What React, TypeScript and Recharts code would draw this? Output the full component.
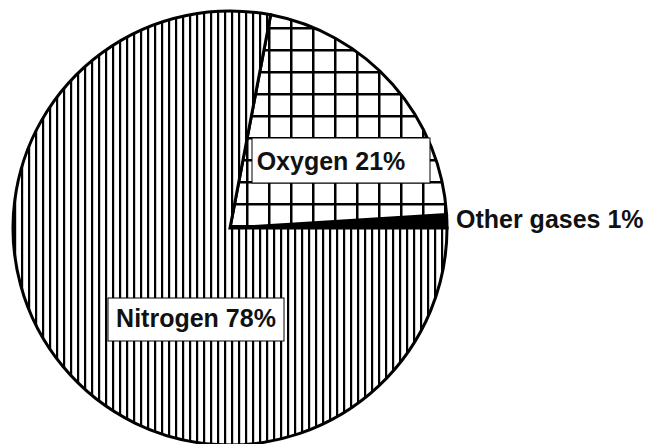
import { PieChart, Pie, Cell } from 'recharts';

const gases = ['Other gases', 'Oxygen', 'Nitrogen'];
const shares = [1, 21, 78];
const fills = ['#000', 'url(#crossHatch)', 'url(#vertHatch)'];

const datos = gases.map((name, i) => ({ name, value: shares[i] }));

// where each label sits, relative to the pie centre
const labelSpots: Record<string, { dx: number; dy: number; anchor: 'start' | 'middle'; box?: number[] }> = {
  'Other gases': { dx: 226, dy: 0, anchor: 'start' },
  Oxygen: { dx: 101, dy: -58, anchor: 'middle', box: [22, -90, 178, 45] },
  Nitrogen: { dx: -34, dy: 99, anchor: 'middle', box: [-122, 70, 176, 43] },
};

const renderLabel = (props: any) => {
  const { cx, cy, name, value } = props;
  const spot = labelSpots[name];
  if (!spot) return null;
  return (
    <g>
      {spot.box && (
        <rect
          x={cx + spot.box[0]}
          y={cy + spot.box[1]}
          width={spot.box[2]}
          height={spot.box[3]}
          fill="#fff"
          stroke="#000"
          strokeWidth={1}
        />
      )}
      <text
        x={cx + spot.dx}
        y={cy + spot.dy}
        textAnchor={spot.anchor}
        fontFamily="'Liberation Sans', Arial, sans-serif"
        fontWeight="bold"
        fontSize={25}
        fill="#111"
      >
        {`${name} ${value}%`}
      </text>
    </g>
  );
};

export default function App() {
  return (
    <div style={{ position: 'absolute', left: 0, top: 0, width: 651, height: 444, background: '#fff' }}>
      <PieChart width={651} height={444} margin={{ top: 0, right: 0, bottom: 0, left: 0 }}>
        <defs>
          <pattern id="vertHatch" patternUnits="userSpaceOnUse" width={7} height={10}>
            <rect width={7} height={10} fill="#fff" />
            <rect x={0} y={0} width={2.2} height={10} fill="#000" />
          </pattern>
          <pattern id="crossHatch" patternUnits="userSpaceOnUse" width={22} height={22} x={4} y={5}>
            <rect width={22} height={22} fill="#fff" />
            <rect x={0} y={0} width={2.5} height={22} fill="#000" />
            <rect x={0} y={0} width={22} height={2.5} fill="#000" />
          </pattern>
        </defs>
        <Pie
          data={datos}
          dataKey="value"
          nameKey="name"
          cx={230}
          cy={228}
          outerRadius={217}
          startAngle={0}
          endAngle={360}
          stroke="#000"
          strokeWidth={3}
          label={renderLabel}
          labelLine={false}
          isAnimationActive={false}
        >
          {datos.map((d, i) => (
            <Cell key={d.name} fill={fills[i]} />
          ))}
        </Pie>
      </PieChart>
    </div>
  );
}
